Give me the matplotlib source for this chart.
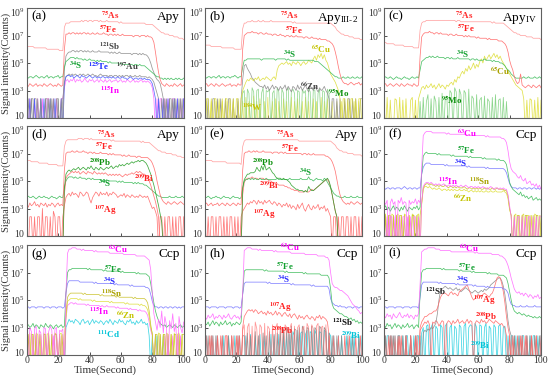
import numpy as np
import matplotlib
matplotlib.use("Agg")
import matplotlib.pyplot as plt
import matplotlib.transforms as mtransforms

plt.rcParams["font.family"] = ["Liberation Serif", "DejaVu Serif"]
plt.rcParams["mathtext.fontset"] = "stix"

# --- DATA ---
# every trace is read off the figure once per second (t = 0..100 s)
# values are 10*log10(counts); 0 means no counts (drawn below the axis)

# (a) Apy
a_as = [62,62,62,62,62,61,61,61,61,61,61,61,61,60,60,60,60,60,60,60,60,59,59,59,76,
        79,79,79,80,80,80,80,80,80,80,81,80,81,81,80,81,81,80,81,81,81,80,81,80,80,
        80,81,80,80,80,80,80,80,80,79,80,79,79,79,79,79,79,79,79,79,79,79,79,79,79,
        79,78,78,78,78,78,77,76,75,74,73,72,72,71,71,71,70,70,70,69,69,69,68,68,68,67]
a_fe = [34,33,35,34,33,34,35,33,34,34,33,35,34,33,34,35,34,33,34,33,35,34,33,34,60,
        71,71,72,71,72,72,71,72,71,72,71,72,72,71,72,71,71,72,71,71,72,71,71,71,72,
        71,71,70,71,71,70,71,70,71,70,70,71,70,70,70,70,70,70,69,70,70,70,69,70,70,
        70,69,70,69,69,68,65,58,50,43,38,35,34,33,35,34,33,34,33,35,34,33,34,35,33,34]
a_sb = [0,24,0,24,24,0,0,24,0,24,0,0,24,24,0,24,0,24,0,0,24,0,24,0,45,
        55,57,58,58,59,59,58,59,58,59,59,58,59,58,59,58,58,59,58,58,58,59,58,58,58,
        58,58,58,57,58,57,58,57,57,58,57,57,57,57,57,57,57,56,57,57,57,56,57,56,57,
        56,56,55,53,50,46,43,40,38,37,35,30,24,0,24,0,24,24,0,24,0,0,24,0,24,0]
a_s = [40,39,40,40,39,40,41,40,39,40,40,39,40,41,39,40,40,39,40,40,41,39,40,40,47,
       51,52,53,54,54,54,53,54,53,53,53,52,53,52,52,53,52,52,52,51,52,51,52,51,51,
       51,51,50,51,50,50,50,50,50,49,50,49,49,49,49,49,49,49,48,49,49,48,49,48,48,
       48,47,46,45,44,43,42,41,40,40,39,39,38,39,38,39,38,39,38,38,39,38,39,38,38,39]
a_au = [24,0,0,24,0,24,24,0,0,24,0,0,24,0,24,0,24,0,0,24,24,0,0,24,36,
        40,41,42,41,42,41,42,41,41,42,41,42,41,41,42,41,41,42,41,41,40,41,42,41,41,
        41,41,40,41,41,40,41,41,40,41,40,41,40,41,41,40,41,40,40,41,40,40,41,40,40,
        40,40,39,40,39,38,36,32,28,24,0,24,0,24,0,0,24,0,24,0,24,0,0,24,0,0]
a_te = [0,0,24,0,0,24,0,0,0,24,0,24,0,0,0,24,0,0,24,0,0,0,24,0,35,
        40,41,41,40,41,39,40,41,40,39,41,40,40,39,40,41,40,39,40,40,39,40,39,40,40,
        39,40,39,40,39,40,39,39,40,39,39,40,39,39,38,39,40,39,38,39,39,38,39,39,38,
        39,38,38,38,37,35,30,24,0,24,0,0,24,0,0,24,0,0,0,24,0,24,0,0,0,24]
a_in = [24,0,24,0,0,24,0,24,0,0,24,0,0,24,24,0,0,24,0,24,0,0,24,24,32,
        37,38,36,38,37,39,36,38,37,38,36,37,39,37,36,38,37,38,36,37,38,36,38,37,36,
        38,36,37,38,36,37,37,38,36,37,38,36,37,36,38,37,36,37,38,36,37,36,37,38,36,
        37,36,37,36,35,32,24,0,24,0,24,24,0,24,0,24,0,0,24,24,0,24,0,24,0,24]

# (b) Apy III-2
b_as = [63,63,63,63,62,62,62,62,62,62,62,61,61,61,61,61,61,61,61,60,60,60,60,60,75,
        79,79,80,80,80,81,80,80,80,81,80,80,81,80,80,80,80,81,80,80,80,80,80,80,80,
        80,80,80,80,80,80,79,80,79,79,79,79,79,79,79,79,79,79,79,79,79,79,79,79,79,
        79,79,79,79,79,79,78,77,76,74,73,72,71,71,70,70,70,69,69,69,68,68,68,68,67,67]
b_fe = [34,35,33,34,35,34,33,35,34,33,34,35,34,33,34,34,35,33,34,34,33,35,34,34,60,
        70,71,72,72,72,73,72,72,72,71,72,72,71,71,72,71,71,71,70,71,71,70,70,71,70,
        70,69,70,70,69,70,69,69,70,69,69,69,69,68,69,69,68,68,69,68,68,68,67,68,67,
        67,67,67,66,66,65,64,62,58,53,47,42,38,36,35,35,34,35,36,35,34,35,35,36,34,35]
b_s = [40,39,40,40,39,40,40,39,40,41,39,40,40,39,40,40,39,40,40,41,40,39,40,40,47,
       52,52,53,53,53,53,53,53,53,53,53,52,53,53,53,53,53,53,53,53,52,53,53,53,53,
       53,53,52,53,52,52,52,52,52,52,52,52,52,52,52,52,52,52,52,52,51,51,51,50,49,
       48,47,46,45,44,43,42,41,40,40,39,39,39,40,39,39,40,39,39,40,39,39,40,39,39,40]
b_cu = [0,24,24,0,24,0,24,24,0,24,0,24,0,24,24,0,24,0,24,0,24,24,0,24,30,
        33,36,38,37,39,38,37,39,38,40,37,38,39,38,40,39,38,37,39,40,38,45,48,49,50,
        49,50,51,49,50,48,51,50,49,51,50,48,50,51,49,50,52,51,50,53,55,52,56,54,57,
        53,56,52,50,46,42,40,38,36,33,30,24,0,24,24,0,24,0,24,24,0,24,0,24,24,0]
b_zn = [24,0,24,0,0,24,24,0,24,0,24,0,0,24,0,24,24,0,24,0,0,24,0,24,38,
        48,49,46,44,42,39,38,36,35,34,33,33,32,34,31,33,30,32,34,31,33,32,30,33,31,
        32,34,30,33,31,29,33,32,30,34,31,33,30,32,34,31,29,33,32,30,33,31,29,32,30,
        31,33,30,28,24,0,24,24,0,24,0,24,0,0,24,0,24,24,0,24,0,24,0,0,24,24]
b_mo = [0,0,0,0,0,0,0,0,0,0,0,0,0,0,0,0,0,0,0,0,0,0,0,0,28,
        30,0,31,28,0,32,29,0,30,31,0,28,32,0,30,29,31,0,28,30,0,32,29,0,31,
        28,0,30,32,0,29,31,28,0,30,29,0,31,28,30,0,32,29,0,31,30,0,28,31,0,
        30,29,0,31,28,0,0,0,0,0,0,0,0,0,0,0,0,0,0,0,0,0,0,0,0,0]
b_w = [0,22,0,0,22,0,0,22,0,0,0,22,0,0,22,0,0,0,22,0,0,22,0,0,22,
       0,25,0,22,0,0,26,0,22,0,24,0,0,22,0,25,0,0,22,0,24,0,22,0,0,
       24,0,22,0,0,25,0,22,0,24,0,0,22,0,25,0,22,0,0,24,0,22,0,0,25,
       0,22,0,24,0,0,22,0,0,22,0,0,22,0,22,0,0,22,0,0,22,0,0,22,0,0]

# (c) Apy IV
c_as = [65,65,64,64,64,64,64,63,63,63,63,63,63,62,62,62,62,62,62,61,61,61,61,74,79,
        80,80,81,81,81,81,81,81,81,81,81,81,81,81,81,81,81,81,81,81,81,80,81,81,80,
        80,80,80,80,80,80,80,80,80,80,80,80,80,80,80,80,80,80,80,79,80,79,79,79,79,
        79,79,78,77,76,75,74,73,72,72,71,71,70,70,70,70,69,69,69,69,68,68,68,68,68,67]
c_fe = [34,35,33,34,35,34,33,34,35,34,33,35,34,33,34,35,34,34,33,35,34,33,34,55,69,
        71,72,72,72,73,72,72,71,72,72,71,72,71,71,71,71,70,71,71,70,70,71,70,70,70,
        70,69,70,69,70,69,69,69,69,68,69,68,68,68,68,68,67,68,67,67,67,67,67,66,66,
        66,65,64,62,58,52,48,45,40,37,35,36,42,34,33,32,33,34,33,32,34,33,32,33,34,32]
c_s = [39,40,39,39,40,39,38,39,40,39,39,38,39,40,39,39,38,39,40,39,39,40,39,45,51,
       52,53,54,54,55,54,55,54,54,55,54,54,54,54,53,54,54,53,54,53,53,53,54,53,53,
       53,53,53,53,53,52,53,53,52,53,52,52,52,52,53,52,52,52,52,51,52,51,51,51,50,
       50,49,48,46,45,44,42,41,40,39,39,39,39,39,40,39,39,40,39,39,39,40,39,39,40,39]
c_cu = [23,0,25,0,23,0,0,24,23,0,25,0,23,0,24,0,0,23,25,0,23,0,24,28,32,
        33,31,34,32,33,35,32,34,31,33,35,32,34,33,31,34,33,35,36,34,38,36,40,39,42,
        44,42,46,44,48,45,47,50,46,49,47,51,53,50,55,52,54,56,53,55,57,54,56,53,55,
        52,50,48,46,44,42,40,38,36,34,33,32,31,30,24,0,23,0,24,23,0,23,0,25,0,23]
c_mo = [0,0,0,0,0,0,0,0,0,0,0,0,0,0,0,0,0,0,0,0,0,0,0,22,0,
        25,0,22,27,0,24,0,26,22,0,25,0,28,0,24,26,0,30,28,0,32,29,0,31,27,
        0,30,28,0,31,0,26,24,0,27,0,23,25,0,26,0,24,22,0,25,0,27,0,23,24,
        0,25,0,22,0,0,0,0,0,0,0,0,0,0,0,0,0,0,0,0,0,0,0,0,0,0]

# (d) Apy
d_as = [65,65,65,64,64,64,64,64,63,63,63,63,63,63,62,62,62,62,62,62,61,61,61,61,75,
        79,80,80,80,80,80,80,80,81,81,81,80,81,81,81,80,81,80,80,80,80,80,80,80,80,
        80,80,80,80,79,80,79,79,79,79,79,79,79,79,79,79,79,79,79,79,79,79,79,78,79,
        78,78,78,78,77,76,75,74,73,72,72,71,71,71,70,70,70,70,69,69,69,68,68,68,67,67]
d_fe = [33,31,34,32,33,35,32,33,31,34,33,32,34,31,33,32,34,33,31,33,34,32,33,32,58,
        70,71,71,71,72,71,71,72,71,71,71,72,71,71,70,71,71,70,71,70,70,70,71,70,70,
        70,70,69,70,69,70,69,69,69,69,69,68,69,68,68,69,68,68,68,68,67,68,68,67,67,
        67,67,67,66,65,63,60,56,50,45,40,37,35,34,33,35,34,33,34,35,34,33,34,35,34,33]
d_pb = [0,0,0,0,0,0,0,0,0,0,0,0,0,0,0,0,0,0,0,0,0,0,0,0,45,
        55,57,58,57,58,59,58,59,60,58,59,60,59,58,60,59,61,59,58,60,59,58,60,59,58,
        59,60,59,60,61,59,60,61,60,62,61,62,61,62,63,62,63,64,63,64,64,65,64,65,65,
        64,63,61,58,55,51,47,42,37,32,26,20,0,0,0,0,0,0,0,0,0,0,0,0,0,0]
d_bi = [0,0,0,0,0,0,0,0,0,0,0,0,0,0,0,0,0,0,0,0,0,0,0,0,40,
        52,54,55,56,57,56,57,56,57,55,56,57,56,55,57,56,56,55,57,56,55,56,55,56,55,
        56,55,54,55,54,55,54,55,54,55,54,53,54,55,54,55,55,56,55,56,57,56,57,56,55,
        55,54,52,50,47,43,39,35,30,24,0,0,0,0,0,0,0,0,0,0,0,0,0,0,0,0]
d_s = [38,39,38,38,39,38,37,38,39,38,38,39,38,38,37,38,39,38,38,37,38,39,38,38,45,
       50,52,53,53,53,52,53,52,52,53,52,52,52,51,52,52,51,52,51,51,51,51,51,50,51,
       50,51,50,50,50,50,50,50,49,50,49,50,49,49,49,49,49,49,48,49,48,49,48,48,48,
       47,47,46,45,44,43,42,41,40,39,39,38,38,38,38,38,39,38,38,38,39,38,38,38,39,38]
d_ag = [24,0,24,24,0,24,0,24,24,0,30,0,24,24,0,24,0,28,24,0,24,24,0,24,32,
        38,40,41,39,42,40,41,40,38,42,41,39,40,42,41,37,34,38,40,42,41,39,42,40,41,
        40,42,39,41,40,42,41,40,38,39,40,39,41,38,40,39,38,40,39,38,39,38,40,39,38,
        39,38,39,36,33,30,31,28,24,0,24,24,0,24,0,24,24,0,24,0,24,0,24,24,0,24]

# (e) Apy
e_as = [65,65,65,65,65,64,64,64,64,64,64,64,64,64,63,63,63,63,63,63,63,63,63,62,75,
        79,80,80,80,80,80,80,80,80,80,80,80,80,80,80,80,80,80,80,80,80,80,80,80,80,
        80,80,80,80,80,80,80,80,80,80,79,79,79,79,79,79,79,79,79,79,79,79,79,79,79,
        79,79,79,79,79,79,78,77,76,74,73,72,72,71,71,71,70,70,70,70,69,69,69,69,69,68]
e_fe = [33,34,32,33,34,32,33,33,34,32,33,34,33,32,34,33,32,33,34,33,32,34,33,33,58,
        70,71,71,72,71,71,72,71,72,71,71,71,72,71,71,71,71,71,70,71,71,71,70,71,71,
        70,71,70,70,70,70,70,70,70,70,70,70,69,70,70,69,70,69,69,70,69,69,69,69,69,
        69,69,68,68,67,66,64,61,57,51,45,40,37,35,34,33,34,33,35,34,33,34,35,34,33,34]
e_pb = [0,0,0,0,0,0,0,0,0,0,0,0,0,0,0,0,0,0,0,0,0,0,0,0,45,
        51,53,55,55,56,56,56,57,60,58,57,61,58,62,58,59,60,58,56,55,53,52,52,52,51,
        52,51,51,50,49,47,46,45,44,44,43,43,43,42,43,42,46,44,43,43,44,45,46,47,48,
        49,50,51,52,50,46,40,34,28,24,0,0,0,0,0,0,0,0,0,0,0,0,0,0,0,0]
e_s = [38,38,39,38,37,38,38,39,38,38,37,38,39,38,38,38,37,38,39,38,38,38,37,38,45,
       50,51,51,52,51,52,51,52,51,51,52,51,51,51,52,51,51,51,51,51,51,52,51,51,51,
       51,51,51,51,52,51,51,51,51,51,51,52,51,51,51,51,53,51,51,50,51,52,51,51,51,
       50,52,51,49,47,45,43,41,40,39,39,38,38,38,39,38,38,38,39,38,38,38,39,38,38,38]
e_bi = [0,0,0,0,0,0,0,0,0,0,0,0,0,0,0,0,0,0,0,0,0,0,0,0,40,
        49,51,52,52,52,53,52,52,52,51,52,52,52,51,51,51,50,50,49,49,48,48,47,47,47,
        47,46,46,45,45,44,44,43,43,43,42,42,42,42,43,42,42,43,44,43,44,45,46,47,48,
        49,50,51,51,49,45,40,34,28,24,0,0,0,0,0,0,0,0,0,0,0,0,0,0,0,0]
e_ag = [24,0,24,0,24,24,0,24,0,24,24,0,24,0,24,0,24,24,0,24,0,24,0,24,28,
        30,32,34,33,35,34,36,35,33,36,34,35,33,36,34,35,36,34,33,35,34,32,34,33,31,
        33,32,34,31,33,30,32,31,29,33,30,32,34,30,28,31,33,30,29,32,30,31,33,29,31,
        30,32,28,30,27,24,0,24,24,0,24,0,24,24,0,24,24,0,24,0,24,24,0,24,0,24]

# (f) Ccp
f_cu = [35,33,36,0,34,37,33,35,0,36,34,38,33,35,34,0,36,33,35,34,37,33,36,34,60,
        83,85,86,86,86,86,85,85,85,85,85,85,85,85,85,84,85,84,84,84,84,84,84,84,84,
        84,84,84,83,84,83,83,83,83,83,83,83,83,83,83,82,83,82,82,82,82,82,82,82,82,
        81,81,80,78,72,64,59,57,56,55,53,52,54,51,50,52,48,49,50,47,48,46,48,45,47,44]
f_fe = [30,32,29,31,28,30,32,29,31,30,28,31,29,32,30,28,31,30,29,31,30,32,29,31,55,
        68,70,71,70,70,70,70,70,70,69,70,69,69,69,69,69,69,69,68,69,68,68,68,68,68,
        68,68,68,68,67,68,67,67,67,67,67,67,67,66,67,66,66,66,66,66,66,66,65,66,65,
        65,65,64,62,56,49,46,44,43,42,41,40,42,39,40,38,39,37,38,39,36,37,38,36,37,36]
f_s = [45,44,45,45,44,45,45,44,45,45,45,44,45,46,45,44,45,45,44,45,45,44,45,45,55,
       60,62,63,63,63,62,62,62,62,62,62,62,62,62,61,62,61,61,61,61,61,61,61,61,61,
       61,61,61,60,61,60,60,60,60,60,60,60,60,60,60,59,60,59,59,59,59,59,59,59,59,
       59,59,58,56,52,48,46,45,45,45,44,45,45,44,45,45,44,45,45,44,45,45,44,45,44,45]
f_in = [24,0,24,0,24,24,0,24,0,0,24,0,24,24,0,24,0,24,0,24,24,0,24,0,35,
        46,48,49,49,48,49,48,47,48,47,48,47,47,48,47,46,47,47,46,47,46,47,46,46,47,
        46,46,47,46,45,46,46,45,46,45,46,45,45,46,45,45,44,45,46,45,44,45,45,44,45,
        44,45,44,44,40,32,24,0,24,0,24,24,0,24,0,24,0,24,24,0,24,0,24,0,24,24]
f_sn = [0,25,0,25,25,0,25,0,25,0,25,25,0,25,0,0,25,0,25,25,0,25,0,25,34,
        45,47,48,48,47,48,47,47,46,47,46,47,46,46,47,46,45,46,46,45,46,45,46,45,45,
        45,46,45,44,45,45,44,45,44,45,44,45,44,44,45,44,45,44,44,45,44,44,45,44,44,
        44,44,43,43,39,30,25,0,25,0,25,25,0,25,0,25,25,0,25,0,25,0,25,25,0,25]
f_zn = [25,26,0,25,0,26,25,0,25,26,0,25,0,26,25,0,25,0,26,25,0,25,26,0,33,
        44,46,46,45,46,45,44,45,44,44,45,44,43,44,44,43,44,43,44,43,44,43,43,44,43,
        43,44,43,43,42,43,43,42,43,42,43,42,43,42,42,43,42,42,43,42,42,43,42,42,42,
        42,43,42,41,37,29,25,0,25,26,0,25,0,25,26,0,25,25,0,25,0,26,25,0,25,0]

# (g) Ccp
g_cu = [28,0,30,27,0,29,31,0,28,26,0,30,29,0,27,31,28,0,29,30,0,28,27,29,0,
        55,84,87,87,88,88,88,87,87,87,86,87,86,86,86,86,86,86,85,86,85,85,85,85,85,
        85,85,85,84,84,84,84,84,84,84,84,84,83,83,83,83,83,83,83,83,82,82,82,82,82,
        82,81,80,79,72,55,40,34,28,36,30,42,26,38,32,0,35,29,40,27,33,0,38,30,26,34]
g_fe = [31,32,30,31,33,30,32,31,29,32,31,30,33,31,30,32,31,29,31,32,30,31,32,30,31,
        55,70,72,72,73,73,73,73,73,73,73,73,73,73,72,73,72,72,72,72,72,72,72,72,71,
        72,71,71,71,71,71,71,71,71,71,70,71,70,70,70,70,70,70,70,70,69,70,69,69,69,
        69,69,68,67,62,55,48,42,38,35,33,32,31,32,30,31,32,31,30,32,31,30,31,32,30,31]
g_s = [45,45,44,45,45,45,44,45,45,45,45,44,45,45,45,44,45,45,45,44,45,45,45,44,45,
       55,62,64,64,64,64,64,64,64,63,63,63,63,63,63,63,63,63,62,63,62,62,62,62,62,
       62,62,62,62,62,62,61,62,61,61,61,61,61,61,61,61,60,61,60,60,60,60,60,60,60,
       60,59,59,58,54,49,46,45,45,44,45,45,44,45,45,44,45,45,44,45,45,44,45,44,45,45]
g_sn = [0,25,0,25,25,0,25,0,25,0,0,25,25,0,25,0,25,0,25,25,0,25,0,25,0,
        40,52,54,55,55,55,55,55,55,55,55,54,55,54,54,54,54,54,54,54,54,54,53,54,53,
        53,53,53,53,53,53,53,52,53,52,52,52,52,52,52,52,52,52,51,52,51,51,51,51,51,
        51,50,48,42,32,25,0,25,25,0,25,0,25,25,0,25,0,25,0,25,25,0,25,0,25,25]
g_zn = [25,0,26,0,25,0,26,25,0,25,0,26,0,25,26,0,25,0,26,25,0,25,26,0,25,
        38,49,50,51,51,51,51,51,50,51,50,50,50,50,50,50,50,49,50,49,49,49,49,49,49,
        49,49,49,48,49,48,48,48,48,48,48,48,48,47,48,47,47,47,47,47,47,47,46,47,46,
        46,45,43,38,30,26,0,25,0,26,25,0,25,0,26,25,0,25,0,26,0,25,26,0,25,0]
g_in = [0,24,0,0,24,0,24,0,0,24,0,0,24,0,24,0,0,24,0,24,0,0,24,0,0,
        36,46,47,48,48,47,48,47,47,47,47,47,47,46,47,46,46,46,46,46,46,46,45,46,45,
        45,46,45,45,45,45,45,44,45,44,44,44,44,44,44,43,44,43,43,43,43,42,43,42,42,
        42,41,39,34,28,24,0,24,0,0,24,0,0,24,0,24,0,0,24,0,0,24,0,24,0,0]
g_cd = [0,0,0,0,0,0,0,0,0,0,0,0,0,0,0,0,0,0,0,0,0,0,0,0,0,
        30,33,36,34,35,33,36,35,34,32,35,36,33,34,35,32,34,36,33,35,34,33,35,34,32,
        34,35,33,36,34,32,35,34,33,36,34,35,33,32,35,34,36,33,34,32,35,33,34,36,33,
        34,32,33,24,0,24,0,0,24,0,0,0,24,0,0,0,0,0,0,0,0,0,0,0,0,0]

# (h) Ccp
h_cu = [38,36,39,37,38,40,36,38,37,39,38,36,39,37,38,40,37,36,38,39,37,38,36,39,55,
        86,87,88,88,88,87,87,87,87,86,87,86,86,86,86,86,86,86,86,85,86,85,85,85,85,
        85,85,85,85,85,84,84,84,84,84,84,84,84,84,83,83,83,83,83,83,83,83,82,82,82,
        82,82,81,81,79,70,62,60,59,59,58,57,57,56,55,54,53,51,49,47,46,45,43,42,40,41]
h_fe = [33,32,34,31,33,35,32,34,33,31,34,32,33,35,32,33,34,31,33,32,34,33,32,34,55,
        71,72,72,72,72,72,72,72,72,72,72,72,72,71,72,71,71,71,71,71,71,71,71,71,71,
        71,70,71,70,70,70,70,70,70,70,70,70,70,69,70,69,69,69,69,69,69,69,69,69,68,
        68,68,68,68,66,58,47,44,43,42,41,40,40,39,38,38,37,36,37,35,36,34,35,33,34,33]
h_s = [45,45,45,44,45,45,45,45,44,45,45,45,45,44,45,45,45,45,44,45,45,45,44,45,54,
       62,63,63,63,63,63,63,63,63,63,63,63,63,63,63,62,63,62,62,62,62,62,62,62,62,
       62,62,62,62,62,61,62,61,61,61,61,61,61,61,61,61,61,61,60,61,60,60,60,60,60,
       60,60,60,60,58,51,48,47,46,46,45,46,45,45,45,44,45,45,45,44,45,45,45,44,45,45]
h_ag = [24,0,0,24,0,24,0,0,24,0,24,0,0,24,24,0,0,24,0,0,24,0,24,0,30,
        38,40,42,43,42,43,41,43,42,40,41,42,40,41,39,42,40,41,39,40,42,39,41,40,38,
        40,41,39,38,40,37,39,40,38,36,39,37,38,36,38,39,37,36,38,37,35,38,37,39,36,
        38,37,36,34,24,0,0,24,0,0,24,0,0,0,24,0,0,24,0,0,0,24,0,0,24,0]
h_pb = [0,24,0,0,24,0,0,24,0,0,0,24,0,0,24,0,0,0,24,0,0,24,0,0,28,
        32,0,30,33,0,31,0,34,29,0,32,30,0,33,0,31,29,0,32,0,30,33,0,31,28,
        0,32,30,0,29,33,0,31,0,30,32,0,29,31,0,33,30,0,32,29,0,31,33,0,30,
        31,0,32,0,24,0,0,0,0,0,0,0,0,0,0,0,0,0,0,0,0,0,0,0,0,0]
h_sb = [0,0,24,0,24,0,0,0,24,0,0,24,0,0,0,24,0,24,0,0,0,24,0,0,24,
        24,0,26,0,24,0,0,27,0,24,0,0,26,0,24,0,27,0,0,25,0,26,0,28,0,
        29,0,30,27,0,31,0,29,28,0,30,0,31,28,0,30,29,0,31,0,30,28,0,31,29,
        0,30,28,0,26,0,24,0,0,24,0,0,24,0,0,0,24,0,0,24,0,0,0,24,0,0]
h_bi = [0,24,0,0,0,24,0,24,0,0,0,0,24,0,0,24,0,0,0,24,0,0,24,0,0,
        0,24,0,0,25,0,0,24,0,0,25,0,0,24,0,0,0,25,0,24,0,0,25,0,0,
        24,0,26,0,25,0,27,24,0,28,0,26,27,0,25,28,0,27,26,0,28,25,0,27,26,
        0,28,27,0,26,24,0,24,0,0,24,0,24,0,0,24,0,0,24,0,24,0,0,24,0,24]

# (i) Ccp
i_cu = [39,37,40,38,39,36,40,38,37,39,41,38,37,39,38,40,37,39,38,36,39,38,40,62,85,
        86,87,87,88,88,88,88,88,87,87,87,86,86,86,86,86,86,86,85,85,85,85,85,85,85,
        85,85,85,85,85,85,85,85,84,85,84,84,84,84,84,84,84,84,84,83,83,83,83,83,82,
        82,81,80,78,75,71,66,62,58,56,55,56,54,55,53,55,54,52,54,53,51,53,52,54,51,52]
i_fe = [32,30,33,31,32,29,31,33,30,32,31,29,32,30,31,33,30,31,32,29,31,32,30,55,70,
        72,72,73,73,73,73,73,73,73,73,73,73,72,73,72,72,72,72,72,72,72,72,72,71,72,
        71,71,71,71,71,71,70,71,70,70,70,70,70,70,70,70,69,70,69,69,69,69,69,68,68,
        68,68,67,66,62,56,50,45,42,41,40,41,40,39,40,39,38,39,38,38,37,38,37,37,38,37]
i_s = [45,45,44,45,45,45,45,44,45,45,45,45,44,45,45,45,45,44,45,45,45,45,44,52,61,
       63,63,63,63,63,63,63,63,63,63,62,63,62,62,62,62,62,62,62,62,62,61,62,61,61,
       61,61,61,61,61,61,61,60,61,60,60,60,60,60,60,59,60,59,59,59,59,59,59,59,59,
       59,58,58,57,55,50,47,46,46,45,45,45,46,45,45,45,46,45,45,45,45,46,45,45,45,45]
i_sb = [0,24,0,0,24,0,24,0,0,24,0,0,24,0,24,0,0,24,0,0,24,0,0,24,0,
        26,28,27,29,28,30,29,31,33,40,50,57,58,59,60,59,58,59,58,57,58,59,57,58,56,
        57,58,59,58,57,56,55,56,57,56,55,56,57,56,58,57,58,59,61,62,63,64,65,66,66,
        64,60,54,45,35,28,24,0,24,0,0,24,0,24,0,0,24,0,24,0,0,24,0,0,24,0]
i_ag = [24,0,0,24,0,24,0,0,0,24,0,24,0,0,24,0,0,24,0,0,24,0,0,30,34,
        36,38,38,39,40,40,41,42,42,44,48,52,54,55,55,54,53,55,56,54,55,54,53,56,57,
        58,59,60,61,58,55,52,50,51,53,54,53,52,54,55,54,53,52,54,55,58,62,66,67,66,
        62,56,48,38,30,24,0,24,0,0,24,0,0,24,0,0,24,0,0,24,0,0,24,0,0,24]
i_pb = [0,24,0,0,24,0,0,24,0,0,24,0,0,0,24,0,0,24,0,0,0,24,0,28,30,
        32,34,33,35,32,0,34,33,35,34,31,33,35,34,0,33,35,34,32,35,33,34,36,33,34,
        35,33,34,36,33,35,34,0,33,35,34,33,36,34,35,33,34,36,35,34,33,35,34,33,32,
        33,31,30,24,0,24,0,0,24,0,0,0,24,0,0,24,0,0,0,24,0,0,24,0,0,0]
i_bi = [24,0,24,24,0,24,0,24,0,24,24,0,24,0,24,24,0,24,0,24,0,24,24,0,26,
        30,0,31,32,0,30,33,0,31,29,0,32,30,0,31,33,0,30,32,0,31,29,0,32,30,
        0,31,33,0,30,32,31,0,33,30,0,32,31,0,30,33,0,31,29,0,32,30,0,31,32,
        0,30,31,0,24,0,24,24,0,24,0,24,0,24,24,0,24,0,24,0,24,24,0,24,0,24]

# --- COLOURS (line, label) ---
RED_AS = ("#ff9a9a", "#ff2a2a")
RED = ("#ff6a6a", "#ff2020")
GREEN = ("#3cbc5a", "#12a030")
DGREEN = ("#2aa02a", "#0c900c")
MOGREEN = ("#66c866", "#0c900c")
GRAY = ("#8c8c8c", "#444444")
BLUE = ("#4a5cff", "#1a2cff")
LBLUE = ("#7878ff", "#2a2aff")
MAGENTA = ("#ff6aff", "#ff00ff")
YELLOW = ("#dede3a", "#c4c400")
OLIVE = ("#c9c12a", "#aaa200")
CYAN = ("#28d0e0", "#00c4d8")

fig = plt.figure(figsize=(5.5, 3.75), dpi=100)

COL_LEFT = [26.7, 205.0, 384.0]
ROW_BOTTOM = [118.0, 236.0, 355.0]
PW, PH = 157.0, 110.0


def make_ax(row, col, letter, name):
    ax = fig.add_axes([COL_LEFT[col] / 550, 1 - ROW_BOTTOM[row] / 375, PW / 550, PH / 375])
    ax.set_yscale("log")
    ax.set_xlim(0, 100)
    ax.set_ylim(10, 1e9)
    ax.set_yticks([1e1, 1e3, 1e5, 1e7, 1e9])
    ax.set_yticklabels([r"$\mathregular{10}$", r"$\mathregular{10^3}$", r"$\mathregular{10^5}$",
                        r"$\mathregular{10^7}$", r"$\mathregular{10^9}$"])
    ax.minorticks_off()
    ax.set_xticks(range(0, 101, 20))
    if row < 2:
        ax.set_xticklabels([])
    ax.tick_params(direction="in", length=2.5, width=0.6, labelsize=7, colors="#333333", pad=1)
    # nudge the end labels so neighbouring rows do not collide
    labels = ax.get_yticklabels()
    labels[0].set_transform(labels[0].get_transform() +
                            mtransforms.ScaledTranslation(0, 2.5 / 72, fig.dpi_scale_trans))
    labels[-1].set_transform(labels[-1].get_transform() +
                             mtransforms.ScaledTranslation(0, -2.5 / 72, fig.dpi_scale_trans))
    for sp in ax.spines.values():
        sp.set_color("#606060")
        sp.set_linewidth(0.8)
    ax.text(0.03, 0.975, letter, transform=ax.transAxes, ha="left", va="top", fontsize=9.5)
    ax.text(0.975, 0.975, name, transform=ax.transAxes, ha="right", va="top", fontsize=9.5)
    return ax


def trace(ax, vals, colors, alpha=0.9):
    v = np.array(vals, dtype=float) / 10.0
    ax.plot(np.arange(len(v)), 10 ** v, color=colors[0], lw=0.55, alpha=alpha)


def tag(ax, t, lv, mass, el, colors):
    ax.text(t, 10 ** lv, r"$^{\mathbf{%s}}$%s" % (mass, el), color=colors[1],
            fontsize=6.5, fontweight="bold", ha="center", va="center")


# (a)
ax = make_ax(0, 0, "(a)", "Apy")
for vals, c in [(a_in, MAGENTA), (a_au, GRAY), (a_te, BLUE), (a_sb, GRAY),
                (a_s, GREEN), (a_fe, RED), (a_as, RED_AS)]:
    trace(ax, vals, c)
tag(ax, 53, 8.45, "75", "As", RED_AS)
tag(ax, 52, 7.45, "57", "Fe", RED)
tag(ax, 53, 6.2, "121", "Sb", GRAY)
tag(ax, 31, 4.85, "34", "S", GREEN)
tag(ax, 46, 4.75, "125", "Te", BLUE)
tag(ax, 64, 4.75, "197", "Au", GRAY)
tag(ax, 53, 3.05, "115", "In", MAGENTA)

# (b)
ax = make_ax(0, 1, "(b)", r"Apy$_{\mathregular{III\text{-}2}}$")
trace(ax, b_w, YELLOW, 0.7)
trace(ax, b_mo, MOGREEN, 0.7)
for vals, c in [(b_zn, GRAY), (b_cu, YELLOW), (b_s, GREEN), (b_fe, RED), (b_as, RED_AS)]:
    trace(ax, vals, c)
tag(ax, 54, 8.45, "75", "As", RED_AS)
tag(ax, 57, 7.4, "57", "Fe", RED)
tag(ax, 54, 5.65, "34", "S", GREEN)
tag(ax, 74, 6.0, "65", "Cu", YELLOW)
tag(ax, 67, 3.35, "66", "Zn", GRAY)
tag(ax, 85, 2.8, "95", "Mo", DGREEN)
tag(ax, 30, 1.8, "184", "W", YELLOW)

# (c)
ax = make_ax(0, 2, "(c)", r"Apy$_{\mathregular{IV}}$")
trace(ax, c_cu, YELLOW)
trace(ax, c_mo, MOGREEN, 0.75)
for vals, c in [(c_s, GREEN), (c_fe, RED), (c_as, RED_AS)]:
    trace(ax, vals, c)
tag(ax, 51, 8.45, "75", "As", RED_AS)
tag(ax, 52, 7.55, "57", "Fe", RED)
tag(ax, 50, 5.6, "34", "S", GREEN)
tag(ax, 74, 4.4, "65", "Cu", OLIVE)
tag(ax, 43, 2.3, "95", "Mo", DGREEN)

# (d)
ax = make_ax(1, 0, "(d)", "Apy")
for vals, c in [(d_ag, RED), (d_s, GREEN), (d_bi, RED), (d_pb, DGREEN),
                (d_fe, RED), (d_as, RED_AS)]:
    trace(ax, vals, c)
tag(ax, 51, 8.4, "75", "As", RED_AS)
tag(ax, 49, 7.55, "57", "Fe", RED)
tag(ax, 47, 6.35, "208", "Pb", DGREEN)
tag(ax, 75, 5.2, "209", "Bi", RED)
tag(ax, 50, 4.8, "34", "S", GREEN)
tag(ax, 50, 2.9, "107", "Ag", RED)

# (e)
ax = make_ax(1, 1, "(e)", "Apy")
for vals, c in [(e_ag, RED), (e_bi, RED), (e_s, GREEN), (e_pb, DGREEN),
                (e_fe, RED), (e_as, RED_AS)]:
    trace(ax, vals, c)
tag(ax, 51, 8.4, "75", "As", RED_AS)
tag(ax, 54, 7.4, "57", "Fe", RED)
tag(ax, 37, 6.35, "208", "Pb", DGREEN)
tag(ax, 64, 5.65, "34", "S", GREEN)
tag(ax, 41, 4.7, "209", "Bi", RED)
tag(ax, 38, 2.55, "107", "Ag", RED)

# (f)
ax = make_ax(1, 2, "(f)", "Ccp")
for vals, c in [(f_zn, YELLOW), (f_sn, OLIVE), (f_in, MAGENTA), (f_s, LBLUE),
                (f_fe, GREEN), (f_cu, MAGENTA)]:
    trace(ax, vals, c)
tag(ax, 53, 8.5, "63", "Cu", MAGENTA)
tag(ax, 52, 7.2, "57", "Fe", GREEN)
tag(ax, 49, 6.3, "34", "S", LBLUE)
tag(ax, 41, 4.95, "115", "In", MAGENTA)
tag(ax, 61, 4.95, "118", "Sn", OLIVE)
tag(ax, 50, 3.75, "66", "Zn", YELLOW)

# (g)
ax = make_ax(2, 0, "(g)", "Ccp")
for vals, c in [(g_cd, CYAN), (g_in, MAGENTA), (g_zn, YELLOW), (g_sn, OLIVE),
                (g_s, LBLUE), (g_fe, GREEN), (g_cu, MAGENTA)]:
    trace(ax, vals, c)
tag(ax, 58, 8.68, "63", "Cu", MAGENTA)
tag(ax, 55, 7.25, "57", "Fe", GREEN)
tag(ax, 53, 6.35, "34", "S", LBLUE)
tag(ax, 54, 5.5, "118", "Sn", OLIVE)
tag(ax, 46, 4.2, "115", "In", MAGENTA)
tag(ax, 63, 3.9, "66", "Zn", YELLOW)
tag(ax, 52, 2.48, "111", "Cd", CYAN)

# (h)
ax = make_ax(2, 1, "(h)", "Ccp")
trace(ax, h_bi, CYAN)
trace(ax, h_sb, GRAY)
trace(ax, h_pb, RED, 0.7)
for vals, c in [(h_ag, RED), (h_s, LBLUE), (h_fe, GREEN), (h_cu, MAGENTA)]:
    trace(ax, vals, c)
tag(ax, 54, 8.85, "63", "Cu", MAGENTA)
tag(ax, 51, 7.45, "57", "Fe", GREEN)
tag(ax, 50, 6.5, "34", "S", LBLUE)
tag(ax, 48, 4.5, "107", "Ag", RED)
tag(ax, 49, 2.8, "208", "Pb", RED)
tag(ax, 88, 3.35, "121", "Sb", ("#808080", "#111111"))
tag(ax, 93, 2.4, "209", "Bi", CYAN)

# (i)
ax = make_ax(2, 2, "(i)", "Ccp")
for vals, c in [(i_bi, CYAN), (i_pb, RED), (i_sb, GRAY), (i_ag, RED),
                (i_s, LBLUE), (i_fe, GREEN), (i_cu, MAGENTA)]:
    trace(ax, vals, c)
tag(ax, 54, 8.8, "63", "Cu", MAGENTA)
tag(ax, 53, 7.35, "57", "Fe", GREEN)
tag(ax, 50, 6.4, "34", "S", LBLUE)
tag(ax, 33, 5.6, "121", "Sb", ("#808080", "#222222"))
tag(ax, 64, 5.0, "107", "Ag", RED)
tag(ax, 65, 3.85, "208", "Pb", RED)
tag(ax, 61, 1.7, "209", "Bi", CYAN)

# axis titles
for row in range(3):
    yc = 1 - (ROW_BOTTOM[row] - PH / 2) / 375
    fig.text(0.011, yc, "Signal intensity(Counts)", rotation=90, ha="center", va="center",
             fontsize=7.5, color="#333333")
for col in range(3):
    xc = (COL_LEFT[col] + PW / 2) / 550
    fig.text(xc, 1 - 370.5 / 375, "Time(Second)", ha="center", va="center", fontsize=8,
             color="#333333")

fig.savefig("out.png", dpi=100)
